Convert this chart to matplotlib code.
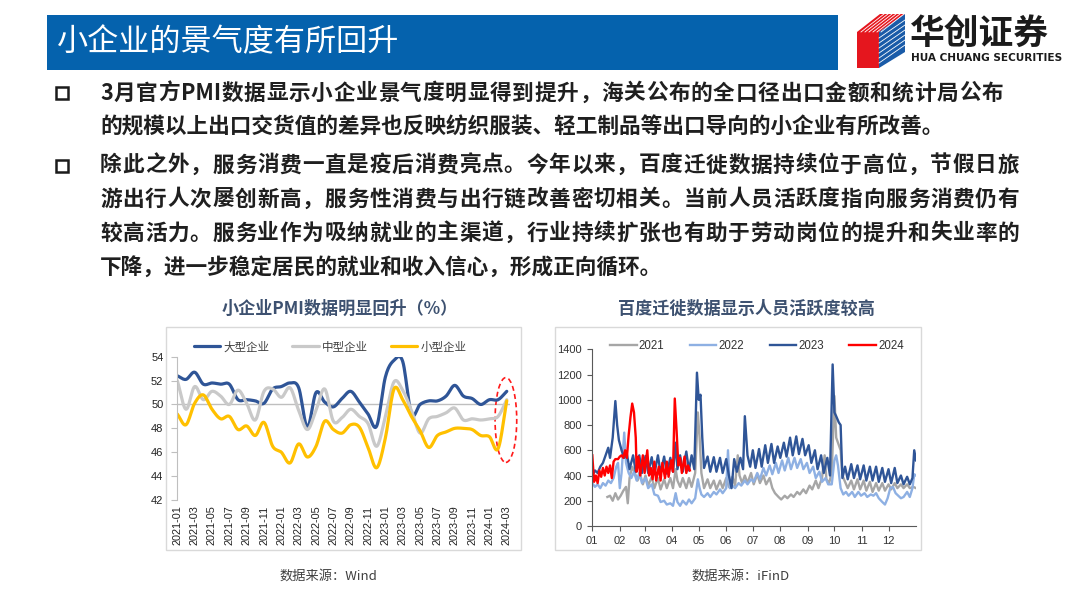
import numpy as np
import pandas as pd
import matplotlib
matplotlib.use("Agg")
import matplotlib.pyplot as plt
from matplotlib.patches import Rectangle, Ellipse, Polygon

plt.rcParams["font.family"] = ["Noto Sans CJK SC", "DejaVu Sans"]

# ---------------- data: left chart (PMI by enterprise size) ----------------
months = list(pd.period_range("2021-01", "2024-03", freq="M").strftime("%Y-%m"))
pmi_large = [52.4, 52.1, 52.7, 51.7, 51.8, 51.7, 51.7, 50.4, 50.4, 50.3,
             50.1, 51.3, 51.5, 51.8, 51.4, 48.1, 51.0, 50.2, 49.8, 50.5,
             51.1, 50.2, 49.2, 48.2, 52.3, 53.7, 53.6, 49.2, 50.0, 50.3,
             50.3, 50.7, 51.6, 50.7, 50.5, 50.0, 50.4, 50.4, 51.1]
pmi_medium = [52.0, 49.6, 51.5, 50.4, 51.1, 50.7, 50.0, 51.2, 50.1, 48.7,
              51.1, 51.3, 50.6, 51.4, 49.5, 47.9, 49.5, 51.3, 48.6, 48.9,
              49.6, 49.0, 48.4, 46.5, 49.0, 51.9, 51.2, 49.5, 47.6, 48.8,
              49.0, 49.3, 49.7, 48.7, 48.8, 48.7, 48.8, 49.0, 50.4]
pmi_small = [49.2, 48.3, 50.1, 50.8, 49.6, 48.8, 49.0, 47.9, 48.2, 47.4,
             48.5, 46.5, 46.0, 45.1, 46.7, 45.6, 46.5, 48.6, 47.9, 47.6,
             48.3, 48.1, 46.4, 44.7, 47.2, 51.3, 50.4, 49.0, 47.8, 46.4,
             47.4, 47.7, 48.0, 48.0, 47.9, 47.4, 47.3, 46.3, 50.3]

# ---------------- data: right chart (Baidu migration index) ----------------
days_2021 = [17, 20, 23, 26, 29, 32, 35, 38, 40, 42, 45, 48, 51, 54, 57, 60, 63, 67, 70, 74,
             77, 81, 84, 88, 91, 94, 96, 99, 102, 106, 109, 112, 116, 119, 121, 123, 126, 130, 133, 137,
             140, 144, 147, 151, 154, 158, 161, 164, 166, 169, 172, 175, 179, 182, 186, 189, 193, 196, 200, 203,
             206, 210, 213, 217, 220, 224, 227, 231, 234, 238, 241, 245, 248, 252, 255, 259, 262, 264, 267, 270,
             273, 275, 278, 280, 282, 285, 288, 292, 295, 299, 302, 306, 309, 313, 316, 320, 323, 327, 330, 334,
             337, 341, 344, 348, 351, 355, 358, 362, 365]
vals_2021 = [230, 240, 200, 260, 210, 240, 280, 310, 180, 380, 470, 420, 360, 410, 330, 400, 320, 390, 300, 380,
             290, 370, 300, 380, 300, 450, 360, 310, 380, 300, 380, 310, 420, 900, 700, 420, 300, 370, 300, 360,
             290, 360, 300, 380, 310, 390, 320, 560, 400, 340, 400, 340, 420, 330, 410, 340, 400, 330, 380, 300,
             260, 230, 210, 240, 220, 250, 230, 270, 250, 290, 260, 320, 290, 360, 300, 380, 560, 370, 340, 420,
             1030, 700, 640, 600, 400, 350, 300, 360, 290, 370, 290, 360, 280, 350, 270, 340, 280, 340, 280, 330,
             290, 340, 300, 330, 300, 330, 300, 310, 300]

days_2022 = [0, 3, 6, 9, 12, 15, 18, 21, 24, 27, 29, 31, 33, 36, 38, 41, 44, 47, 50, 53,
             56, 60, 63, 67, 70, 74, 77, 81, 84, 88, 91, 94, 96, 99, 102, 106, 109, 112, 116, 119,
             121, 123, 126, 130, 133, 137, 140, 144, 147, 151, 153, 155, 158, 161, 165, 168, 172, 175, 179, 182,
             186, 189, 193, 196, 200, 203, 207, 210, 214, 217, 221, 224, 228, 231, 235, 238, 242, 245, 249, 252,
             256, 259, 263, 266, 270, 273, 275, 277, 280, 283, 286, 289, 293, 296, 300, 303, 307, 310, 314, 317,
             320, 323, 327, 330, 333, 336, 339, 342, 345, 348, 351, 355, 358, 361, 363, 365]
vals_2022 = [340, 310, 330, 300, 340, 320, 360, 340, 380, 470, 500, 300, 420, 740, 500, 420, 380, 430, 360, 420,
             340, 380, 300, 330, 250, 240, 190, 200, 170, 180, 160, 260, 190, 160, 200, 170, 210, 180, 220, 370,
             300, 250, 230, 260, 230, 270, 250, 290, 260, 300, 600, 300, 320, 300, 340, 320, 360, 330, 370, 350,
             420, 370, 460, 400, 480, 410, 500, 420, 520, 440, 540, 450, 540, 460, 530, 450, 500, 420, 470, 380,
             430, 350, 380, 330, 330, 520, 560, 480, 300, 250, 270, 240, 270, 230, 270, 240, 260, 230, 250, 240,
             260, 220, 190, 170, 220, 300, 310, 260, 240, 220, 230, 270, 230, 300, 410, 400]

days_2023 = [0, 3, 6, 9, 12, 15, 18, 20, 23, 26, 28, 30, 33, 36, 39, 42, 46, 49, 53, 56,
             60, 63, 67, 70, 74, 77, 81, 84, 88, 91, 94, 96, 99, 102, 106, 109, 112, 115, 118, 120,
             122, 124, 126, 130, 133, 137, 140, 144, 147, 151, 154, 157, 160, 163, 167, 170, 172, 175, 178, 181,
             184, 188, 191, 195, 198, 202, 205, 209, 212, 216, 219, 223, 226, 230, 233, 237, 240, 244, 247, 251,
             254, 258, 261, 265, 268, 271, 273, 275, 278, 280, 282, 285, 288, 292, 295, 299, 302, 306, 309, 313,
             316, 320, 323, 327, 330, 334, 337, 341, 344, 348, 351, 355, 358, 361, 363, 365]
vals_2023 = [400, 440, 420, 470, 500, 560, 620, 540, 700, 990, 800, 680, 600, 540, 570, 450, 560, 430, 560, 420,
             555, 420, 545, 410, 560, 420, 550, 415, 540, 430, 660, 450, 560, 430, 590, 440, 560, 450, 1215, 1000,
             1040, 700, 460, 550, 430, 545, 430, 540, 420, 530, 400, 300, 530, 430, 540, 450, 870, 560, 470, 600,
             460, 610, 470, 640, 500, 650, 500, 630, 540, 660, 550, 700, 560, 710, 570, 690, 560, 640, 500, 600,
             450, 560, 420, 540, 400, 1280, 900, 870, 820, 800, 380, 470, 370, 490, 380, 480, 370, 480, 360, 470,
             360, 470, 350, 460, 350, 450, 340, 460, 340, 400, 330, 390, 330, 380, 600, 520]

days_2024 = [0, 2, 4, 6, 8, 10, 12, 14, 16, 18, 20, 22, 24, 26, 29, 31, 33, 35, 37, 39,
             41, 43, 45, 47, 49, 50, 52, 54, 57, 59, 62, 64, 66, 68, 70, 72, 75, 77, 79, 82,
             84, 86, 89, 91, 93, 95, 97, 99, 101, 104, 106, 108, 110]
vals_2024 = [560, 350, 400, 340, 440, 390, 460, 400, 470, 420, 480, 380, 510, 530, 530, 550, 560, 540, 600, 540,
             720, 860, 970, 900, 700, 430, 550, 400, 560, 420, 600, 400, 460, 370, 510, 360, 470, 360, 500, 380,
             510, 390, 520, 430, 1010, 760, 480, 540, 420, 550, 420, 480, 440]

month_labels = ["01", "02", "03", "04", "05", "06", "07", "08", "09", "10", "11", "12"]
month_days = [31, 28, 31, 30, 31, 30, 31, 31, 30, 31, 30, 31]


def catmull(y, n=12):
    pts = np.asarray(y, float)
    p = np.concatenate([[2 * pts[0] - pts[1]], pts, [2 * pts[-1] - pts[-2]]])
    xs, ys = [], []
    t = np.linspace(0, 1, n, endpoint=False)
    for i in range(len(pts) - 1):
        p0, p1, p2, p3 = p[i:i + 4]
        ys.append(0.5 * (2 * p1 + (-p0 + p2) * t + (2 * p0 - 5 * p1 + 4 * p2 - p3) * t ** 2
                         + (-p0 + 3 * p1 - 3 * p2 + p3) * t ** 3))
        xs.append(i + t)
    xs.append([len(pts) - 1])
    ys.append([pts[-1]])
    return np.concatenate(xs), np.concatenate(ys)


W, H = 1080, 608
fig = plt.figure(figsize=(10.8, 6.08), dpi=100)
renderer = fig.canvas.get_renderer()


def fx(px):
    return px / W


def fy(py):
    return 1 - py / H


def justify(line, x0, x1, y, size, **kw):
    # split into tokens: runs of ascii chars, or single full-width chars
    tokens = []
    for ch in line:
        if ord(ch) < 128 and tokens and ord(tokens[-1][-1]) < 128:
            tokens[-1] += ch
        else:
            tokens.append(ch)
    em = size * 100 / 72
    arts, widths = [], []
    for tok in tokens:
        t = fig.text(0, fy(y), tok, fontsize=size, va="center", ha="left", **kw)
        arts.append(t)
        widths.append(t.get_window_extent(renderer).width if ord(tok[0]) < 128 else em)
    gap = ((x1 - x0) - sum(widths)) / (len(tokens) - 1)
    x = x0
    for t, w in zip(arts, widths):
        t.set_x(fx(x))
        x += w + gap


# ---------------- header ----------------
fig.patches.append(Rectangle((fx(47), fy(70)), fx(838 - 47), (70 - 15) / H,
                             transform=fig.transFigure, facecolor="#0562ad", edgecolor="none"))
fig.text(fx(57), fy(43), "小企业的景气度有所回升", color="white", fontsize=22.4,
         fontweight="light", va="center", ha="left")

# logo
def poly(pts, color):
    fig.patches.append(Polygon([(fx(a), fy(b)) for a, b in pts], closed=True,
                               transform=fig.transFigure, facecolor=color, edgecolor="none"))

poly([(857, 32), (879, 32), (879, 68), (857, 68)], "#e5161e")
poly([(857, 32), (880, 14), (905, 14), (879, 32)], "#e5161e")
poly([(879, 32), (905, 14), (905, 52), (879, 68)], "#1a5ba8")
for k in range(6):
    off = 4 + k * 4
    fig.lines.append(plt.Line2D([fx(857 + off), fx(880 + off)], [fy(32), fy(14)],
                                transform=fig.transFigure, color="white", lw=0.6))
for k in range(6):
    off = 6 + k * 5
    fig.lines.append(plt.Line2D([fx(879), fx(905)], [fy(32 + off), fy(14 + off)],
                                transform=fig.transFigure, color="white", lw=0.6))
fig.text(fx(910), fy(33), "华创证券", fontsize=25, fontweight="bold", color="#1b1b1b",
         va="center", ha="left")
fig.text(fx(911), fy(58), "HUA CHUANG SECURITIES", fontsize=7.6, fontweight="bold",
         color="#1b1b1b", va="center", ha="left",
         family=["Liberation Sans Narrow", "DejaVu Sans"])

# ---------------- bullet text ----------------
para1 = ["3月官方PMI数据显示小企业景气度明显得到提升，海关公布的全口径出口金额和统计局公布",
         "的规模以上出口交货值的差异也反映纺织服装、轻工制品等出口导向的小企业有所改善。"]
para2 = ["除此之外，服务消费一直是疫后消费亮点。今年以来，百度迁徙数据持续位于高位，节假日旅",
         "游出行人次屡创新高，服务性消费与出行链改善密切相关。当前人员活跃度指向服务消费仍有",
         "较高活力。服务业作为吸纳就业的主渠道，行业持续扩张也有助于劳动岗位的提升和失业率的",
         "下降，进一步稳定居民的就业和收入信心，形成正向循环。"]
for yb in (99, 172):
    fig.patches.append(Rectangle((fx(56), fy(yb)), fx(12), 12 / H, transform=fig.transFigure,
                                 facecolor="white", edgecolor="#1b1b1b", lw=1.8))
body = dict(fontweight="bold", color="#1f1f1f")
justify(para1[0], 100, 1003, 93, 15.6, **body)
fig.text(fx(100), fy(127), para1[1], fontsize=15.6, va="center", ha="left", **body)
for line, yy in zip(para2[:3], [165, 199, 233]):
    justify(line, 100, 1019, yy, 15.6, **body)
fig.text(fx(100), fy(268), para2[3], fontsize=15.6, va="center", ha="left", **body)

# ---------------- chart frames and titles ----------------
for x0, x1 in ((166, 521), (555, 921)):
    fig.patches.append(Rectangle((fx(x0), fy(550)), fx(x1 - x0), (550 - 327) / H,
                                 transform=fig.transFigure, fill=False,
                                 edgecolor="#d9d9d9", lw=1.0, zorder=-1))
fig.text(fx(340), fy(309), "小企业PMI数据明显回升（%）", fontsize=12.3, fontweight="bold",
         color="#3d5170", ha="center", va="center")
fig.text(fx(746), fy(309), "百度迁徙数据显示人员活跃度较高", fontsize=12.3, fontweight="bold",
         color="#3d5170", ha="center", va="center")
fig.text(fx(328), fy(576), "数据来源：Wind", fontsize=9.5, color="#404040", ha="center", va="center")
fig.text(fx(741), fy(576), "数据来源：iFinD", fontsize=9.5, color="#404040", ha="center", va="center")

# ---------------- left chart ----------------
ax1 = fig.add_axes([fx(177.3), fy(500), (38.4 * 8.67) / W, (500 - 356.7) / H])
series = [(pmi_large, "大型企业", "#2f5597"),
          (pmi_medium, "中型企业", "#c9c9c9"),
          (pmi_small, "小型企业", "#ffc000")]
for vals, lab, col in series:
    sx, sy = catmull(vals)
    ax1.plot(sx, sy, color=col, lw=2.3, label=lab, solid_capstyle="round")
ax1.axhline(50, color="#bfbfbf", lw=1.0, zorder=0)
ax1.set_xlim(0, 38.4)
ax1.set_ylim(42, 54)
ax1.set_yticks(np.arange(42, 55, 2))
ax1.set_xticks(range(0, len(months), 2))
ax1.set_xticklabels(months[::2], rotation=90, family=["Liberation Sans", "DejaVu Sans"],
                    fontsize=7.8, color="#222222")
for lab in ax1.get_yticklabels():
    lab.set_family(["Liberation Sans", "DejaVu Sans"])
ax1.tick_params(axis="y", labelsize=8, colors="#222222", length=4, color="#bfbfbf", pad=6)
ax1.tick_params(axis="x", length=0, pad=4)
for s in ("top", "right", "bottom"):
    ax1.spines[s].set_visible(False)
ax1.spines["left"].set_color("#bfbfbf")
ax1.patch.set_alpha(0)
ax1.add_patch(Ellipse((37.9, 48.7), 2.5, 7.1, fill=False, edgecolor="#ff1a1a",
                      ls=(0, (3, 2)), lw=1.2, clip_on=False))
ax1.legend(loc="center", bbox_to_anchor=(fx(330), fy(347)), bbox_transform=fig.transFigure,
           ncol=3, frameon=False, fontsize=8.3, handlelength=2.3, columnspacing=2.0,
           handletextpad=0.25, labelcolor="#404040")

# ---------------- right chart ----------------
ax2 = fig.add_axes([fx(592.3), fy(526), (916 - 592.3) / W, (526 - 349.3) / H])
for d, v, lab, col in ((days_2021, vals_2021, "2021", "#a6a6a6"),
                       (days_2022, vals_2022, "2022", "#8eb0e3"),
                       (days_2023, vals_2023, "2023", "#2f5597"),
                       (days_2024, vals_2024, "2024", "#ff0000")):
    ax2.plot(d, v, color=col, lw=1.7, label=lab)
ax2.set_xlim(0, 365)
ax2.set_ylim(0, 1400)
ax2.set_yticks(np.arange(0, 1401, 200))
ax2.set_xticks(np.cumsum([0] + month_days[:-1]))
ax2.set_xticklabels(month_labels)
for lab in ax2.get_xticklabels() + ax2.get_yticklabels():
    lab.set_family(["Liberation Sans", "DejaVu Sans"])
ax2.tick_params(labelsize=8, colors="#333333", length=3.5, color="#595959", pad=4)
for s in ("top", "right"):
    ax2.spines[s].set_visible(False)
for s in ("left", "bottom"):
    ax2.spines[s].set_color("#595959")
ax2.patch.set_alpha(0)
ax2.legend(loc="center", bbox_to_anchor=(fx(757), fy(346)), bbox_transform=fig.transFigure,
           ncol=4, frameon=False, handlelength=2.3, columnspacing=2.2,
           handletextpad=0.2, labelcolor="#333333",
           prop={"family": ["Liberation Sans", "DejaVu Sans"], "size": 8.3})

fig.savefig("out.png", dpi=100)
